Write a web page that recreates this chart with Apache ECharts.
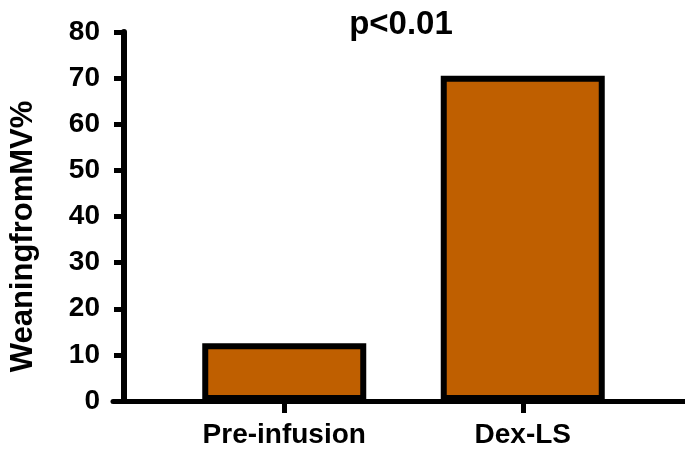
<!DOCTYPE html>
<html><head><meta charset="utf-8">
<script src="https://cdn.jsdelivr.net/npm/echarts@6/dist/echarts.min.js"></script>
<style>html,body{margin:0;padding:0;background:#fff}#c{width:685px;height:454px}</style>
</head><body><div id="c"></div>
<script>
var categories = ['Pre-infusion', 'Dex-LS'];
var values = [12.5, 70.5];
var yTicks = [0, 10, 20, 30, 40, 50, 60, 70, 80];
var titleText = 'p<0.01';
var yTitle = 'WeaningfromMV%';

var FONT = '"Liberation Sans", Arial, sans-serif';
var chart = echarts.init(document.getElementById('c'), null, {renderer: 'canvas'});
chart.setOption({
  animation: false,
  backgroundColor: '#fff',
  title: {text: titleText, left: 396, top: 3, textAlign: 'center',
    textStyle: {fontFamily: FONT, fontWeight: 'bold', fontSize: 33, color: '#000'}},
  grid: [
    {left: 164, right: 43, top: 32, bottom: 53},
    {left: 113, right: 0, top: 32, bottom: 53}
  ],
  xAxis: [
    {type: 'category', gridIndex: 0, data: categories,
     axisLine: {show: false},
     axisTick: {show: true, alignWithLabel: true, length: 12, lineStyle: {color: '#000', width: 5}},
     axisLabel: {margin: 20, color: '#000', fontFamily: FONT, fontWeight: 'bold', fontSize: 28}},
    {type: 'value', gridIndex: 1, min: 0, max: 1,
     axisLine: {show: true, lineStyle: {color: '#000', width: 5}},
     axisTick: {show: false}, axisLabel: {show: false}, splitLine: {show: false}}
  ],
  yAxis: [
    {type: 'value', gridIndex: 0, min: yTicks[0], max: yTicks[yTicks.length - 1], interval: 10,
     offset: 41,
     name: yTitle, nameLocation: 'middle', nameGap: 85, nameRotate: 90,
     nameTextStyle: {fontFamily: FONT, fontWeight: 'bold', fontSize: 31, color: '#000', padding: [0, 40, 0, 0]},
     axisLine: {show: true, lineStyle: {color: '#000', width: 6}},
     axisTick: {show: true, length: 10, lineStyle: {color: '#000', width: 5}},
     axisLabel: {margin: 24, color: '#000', fontFamily: FONT, fontWeight: 'bold', fontSize: 28},
     splitLine: {show: false}},
    {type: 'value', gridIndex: 1, show: false, min: 0, max: 1}
  ],
  series: [{
    type: 'bar', xAxisIndex: 0, yAxisIndex: 0, data: values, barWidth: 164,
    itemStyle: {color: '#BF5F00', borderColor: '#000', borderWidth: 6},
    z: 3
  }]
});
</script></body></html>
